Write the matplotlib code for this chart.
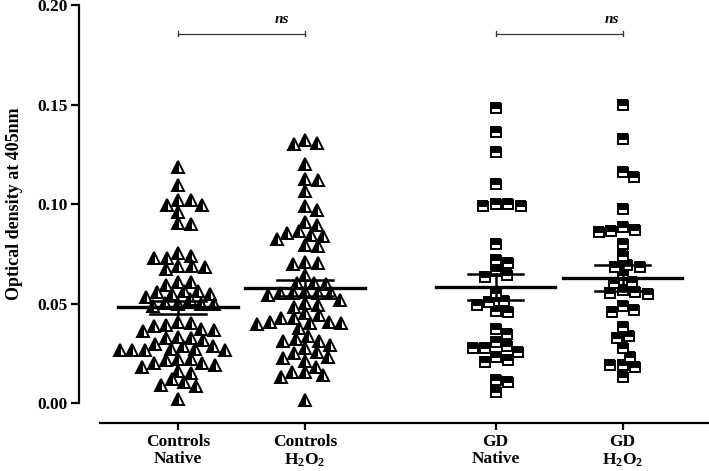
import numpy as np
import matplotlib
matplotlib.use('Agg')
import matplotlib.pyplot as plt

plt.rcParams['font.family'] = 'Liberation Serif'
plt.rcParams['mathtext.fontset'] = 'custom'
plt.rcParams['mathtext.rm'] = 'Liberation Serif:bold'
plt.rcParams['mathtext.bf'] = 'Liberation Serif:bold'
plt.rcParams['mathtext.default'] = 'rm'

# group labels and positions on the x axis
labels = ['Controls\nNative', 'Controls\nH$_2$O$_2$', 'GD\nNative', 'GD\nH$_2$O$_2$']
positions = [0, 1, 2.5, 3.5]

# optical density values
ctrl_native = [0.1184, 0.1095, 0.1020, 0.0995, 0.0995, 0.1020, 0.0958, 0.0899, 0.0906,
               0.0740, 0.0727, 0.0690, 0.0685, 0.0690, 0.0673, 0.0730, 0.0752,
               0.0610, 0.0593, 0.0606, 0.0564, 0.0548, 0.0531, 0.0546, 0.0560, 0.0564,
               0.0504, 0.0497, 0.0497, 0.0487, 0.0497, 0.0521, 0.0409, 0.0400, 0.0389,
               0.0367, 0.0363, 0.0372, 0.0392, 0.0333, 0.0325, 0.0317, 0.0296, 0.0328,
               0.0271, 0.0266, 0.0266, 0.0286, 0.0266, 0.0266, 0.0270, 0.0286,
               0.0224, 0.0216, 0.0221, 0.0199, 0.0179, 0.0191, 0.0199, 0.0149, 0.0162,
               0.0119, 0.0090, 0.0085, 0.0104, 0.0023]
ctrl_h2o2 = [0.1322, 0.1300, 0.1305, 0.1199, 0.1126, 0.1121, 0.1065, 0.0992, 0.0970,
             0.0911, 0.0894, 0.0856, 0.0866, 0.0844, 0.0824, 0.0791, 0.0794, 0.0841,
             0.0705, 0.0698, 0.0710, 0.0643, 0.0605, 0.0598, 0.0605,
             0.0551, 0.0551, 0.0551, 0.0559, 0.0543, 0.0551, 0.0518, 0.0492, 0.0484,
             0.0504, 0.0451, 0.0430, 0.0375, 0.0409, 0.0404, 0.0397, 0.0400, 0.0409,
             0.0430, 0.0442, 0.0337, 0.0313, 0.0313, 0.0320, 0.0275, 0.0250, 0.0229,
             0.0233, 0.0258, 0.0213, 0.0157, 0.0141, 0.0132, 0.0157, 0.0015,
             0.0291, 0.0183]
gd_native = [0.1481, 0.1363, 0.1263, 0.1099, 0.1000, 0.0990, 0.0990, 0.1000, 0.0799,
             0.0719, 0.0702, 0.0665, 0.0635, 0.0643, 0.0551, 0.0509, 0.0462, 0.0459,
             0.0492, 0.0513, 0.0370, 0.0308, 0.0345, 0.0278, 0.0258, 0.0216, 0.0208,
             0.0233, 0.0278, 0.0286, 0.0116, 0.0057, 0.0107]
gd_h2o2 = [0.1497, 0.1325, 0.1162, 0.1137, 0.0973, 0.0886, 0.0861, 0.0866, 0.0869,
           0.0799, 0.0740, 0.0693, 0.0685, 0.0685, 0.0643, 0.0605, 0.0610, 0.0559,
           0.0548, 0.0554, 0.0568, 0.0467, 0.0459, 0.0487, 0.0380, 0.0325, 0.0337,
           0.0275, 0.0233, 0.0191, 0.0183, 0.0191, 0.0132]

# mean and SEM as drawn
means = [0.0481, 0.0578, 0.0583, 0.0628]
sems = [0.0034, 0.0038, 0.0066, 0.0065]

fig = plt.figure(figsize=(7.09, 4.71), dpi=100)
ax = fig.add_axes([79/709, 48/471, 630/709, 418/471])
ax.set_xlim(-0.78, 4.181)
ax.set_ylim(-0.01, 0.20)

# pixel scales for the swarm layout
xscale = 630 / (4.181 + 0.78)
yscale = 418 / 0.21


def swarm(vals, center, dx=12.5, dy=10.0):
    vals = np.asarray(vals)
    placed = []
    xs = np.zeros(len(vals))
    for i in np.argsort(vals)[::-1]:
        y = vals[i] * yscale
        best = None
        for k in range(0, 400):
            for off in ([0] if k == 0 else [k * 0.5, -k * 0.5]):
                if all(((off - px) / dx) ** 2 + ((y - py) / dy) ** 2 >= 1 for px, py in placed):
                    best = off
                    break
            if best is not None:
                break
        placed.append((best, y))
        xs[i] = center + best / xscale
    return xs


data = [ctrl_native, ctrl_h2o2, gd_native, gd_h2o2]
for i, vals in enumerate(data):
    xs = swarm(vals, positions[i])
    if i < 2:
        ax.plot(xs, vals, ls='none', marker='^', markersize=8, fillstyle='left',
                markerfacecolor='black', markerfacecoloralt='white',
                markeredgecolor='black', markeredgewidth=1.4, zorder=2)
    else:
        ax.plot(xs, vals, ls='none', marker='s', markersize=7, fillstyle='top',
                markerfacecolor='black', markerfacecoloralt='white',
                markeredgecolor='black', markeredgewidth=1.4, zorder=2)
    p = positions[i]
    ax.plot([p - 0.47, p + 0.47], [means[i], means[i]], color='black', lw=2.4, zorder=3)
    ax.plot([p, p], [means[i] - sems[i], means[i] + sems[i]], color='black', lw=1.8, zorder=3)
    for v in (means[i] - sems[i], means[i] + sems[i]):
        ax.plot([p - 0.22, p + 0.22], [v, v], color='black', lw=1.8, zorder=3)

# ns brackets
for a, b, tx in [(0, 1, 0.82), (2.5, 3.5, 0.92)]:
    ax.plot([a, b], [0.1855, 0.1855], color='#333333', lw=0.9)
    for e in (a, b):
        ax.plot([e, e], [0.1842, 0.1868], color='#333333', lw=0.9)
    ax.text(a + tx * (b - a), 0.1925, 'ns', fontsize=11, fontstyle='italic',
            fontweight='bold', ha='center', va='center')

for s in ['top', 'right']:
    ax.spines[s].set_visible(False)
ax.spines['left'].set_bounds(0, 0.20)
ax.spines['bottom'].set_bounds(-0.614, 4.181)
ax.spines['left'].set_linewidth(1.6)
ax.spines['bottom'].set_linewidth(1.6)

ax.set_yticks([0, 0.05, 0.10, 0.15, 0.20])
ax.set_yticklabels(['0.00', '0.05', '0.10', '0.15', '0.20'], fontweight='bold', fontsize=12.5)
ax.set_xticks(positions)
ax.set_xticklabels(labels, fontweight='bold', fontsize=12.5, linespacing=1.1)
ax.tick_params(axis='y', length=6, width=1.6, pad=2)
ax.tick_params(axis='x', length=5, width=1.6, pad=3)

fig.text(15/709, 267/471, 'Optical density at 405nm', rotation=90, fontsize=13,
         fontweight='bold', ha='center', va='center')

fig.savefig('out.png', dpi=100)
